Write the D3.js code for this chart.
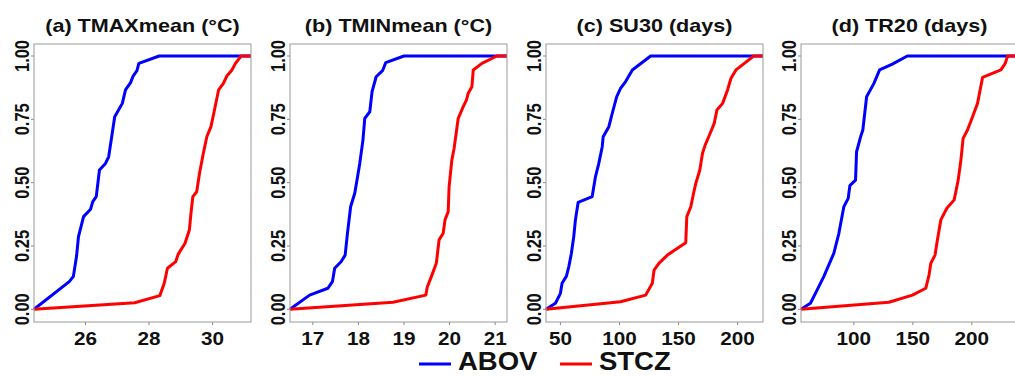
<!DOCTYPE html>
<html lang="en">
<head>
<meta charset="UTF-8">
<title>ECDF panels</title>
<style>
  body { margin: 0; background: #fff; }
  text { font-family: "Liberation Sans", Arial, sans-serif; font-weight: bold; fill: #111; }
</style>
</head>
<body>
<script src="https://d3js.org/d3.v7.min.js"></script>
<script>
// ---- data ([value, cumulative probability]) ----
var titles = ["(a) TMAXmean (°C)", "(b) TMINmean (°C)", "(c) SU30 (days)", "(d) TR20 (days)"];
var xDomains = [[24.38, 31.21], [16.5, 21.26], [37.8, 221.5], [55.2, 239.1]];
var xTicks = [[26, 28, 30], [17, 18, 19, 20, 21], [50, 100, 150, 200], [100, 150, 200]];
var yTicks = [0, 0.25, 0.5, 0.75, 1];
var seriesNames = ["ABOV", "STCZ"];

var tmaxABOV = [[24.38,0],[25.49,0.109],[25.62,0.13],[25.72,0.21],[25.78,0.287],[25.94,0.366],[26.16,0.395],
  [26.23,0.425],[26.34,0.445],[26.44,0.55],[26.63,0.576],[26.73,0.602],[26.81,0.668],[26.92,0.76],[27.16,0.813],
  [27.26,0.866],[27.42,0.895],[27.5,0.921],[27.62,0.942],[27.68,0.971],[28.32,1],[31.21,1]];
var tmaxSTCZ = [[24.38,0],[27.55,0.026],[28.34,0.054],[28.48,0.103],[28.58,0.162],[28.84,0.188],[28.92,0.218],
  [29.13,0.26],[29.27,0.313],[29.32,0.379],[29.38,0.445],[29.5,0.464],[29.59,0.537],[29.71,0.616],[29.82,0.681],
  [29.95,0.721],[30.06,0.787],[30.19,0.866],[30.34,0.892],[30.45,0.921],[30.61,0.945],[30.72,0.971],[30.9,1],[31.21,1]];

var tminABOV = [[16.5,0],[16.93,0.056],[17.33,0.083],[17.43,0.109],[17.48,0.162],[17.62,0.188],[17.71,0.214],
  [17.76,0.3],[17.83,0.405],[17.92,0.458],[17.97,0.51],[18.03,0.576],[18.1,0.668],[18.14,0.754],[18.25,0.78],
  [18.3,0.859],[18.39,0.918],[18.53,0.942],[18.6,0.974],[19.0,1],[21.26,1]];
var tminSTCZ = [[16.5,0],[18.76,0.028],[19.48,0.056],[19.51,0.087],[19.6,0.129],[19.71,0.182],[19.77,0.274],
  [19.86,0.3],[19.9,0.353],[19.97,0.385],[19.99,0.484],[20.05,0.589],[20.1,0.636],[20.19,0.754],[20.3,0.8],
  [20.37,0.826],[20.41,0.853],[20.49,0.879],[20.52,0.945],[20.71,0.971],[21.04,1],[21.26,1]];

var su30ABOV = [[37.8,0],[45.8,0.024],[50,0.063],[51.4,0.103],[55.1,0.131],[57.1,0.168],[59.3,0.221],[61.3,0.287],
  [62.7,0.353],[65,0.422],[76.9,0.445],[79.7,0.524],[82.5,0.576],[85.4,0.642],[86.2,0.681],[91,0.721],[93.9,0.774],
  [97.6,0.839],[100.9,0.872],[105.2,0.899],[110.9,0.945],[126.4,1],[221.5,1]];
var su30STCZ = [[37.8,0],[100.9,0.03],[122.2,0.056],[127.8,0.103],[129.3,0.155],[133.5,0.182],[140.6,0.214],
  [149.1,0.241],[156.1,0.263],[157,0.366],[160.4,0.405],[162.7,0.458],[164.6,0.497],[168,0.55],[170.3,0.616],
  [172.6,0.649],[176.8,0.695],[180.2,0.734],[182.5,0.787],[187.3,0.813],[191.5,0.866],[194.4,0.912],[198.6,0.945],
  [205.7,0.971],[213.6,1],[221.5,1]];

var tr20ABOV = [[55.2,0],[63.2,0.024],[68.8,0.076],[74.5,0.129],[83,0.221],[87.3,0.3],[91.5,0.405],[95.2,0.438],
  [96.6,0.488],[101.4,0.51],[102.3,0.622],[105.7,0.681],[107.6,0.708],[110.8,0.839],[117,0.892],[121.8,0.945],
  [132.6,0.968],[145.3,1],[239.1,1]];
var tr20STCZ = [[55.2,0],[129.7,0.028],[149.6,0.056],[160.9,0.083],[163.7,0.135],[165.2,0.182],[168.8,0.214],
  [170.8,0.274],[173.7,0.353],[178.8,0.399],[185,0.432],[188.4,0.51],[190.7,0.589],[192.6,0.675],[196.3,0.708],
  [200.6,0.76],[204.8,0.813],[209.1,0.916],[224.6,0.945],[228.3,0.971],[230.3,1],[239.1,1]];

var panelSeries = [[tmaxABOV, tmaxSTCZ], [tminABOV, tminSTCZ], [su30ABOV, su30STCZ], [tr20ABOV, tr20STCZ]];
var colors = ["#0000ff", "#ff0000"];

// ---- layout ----
var width = 1015, height = 376;
var panelLeft = [34, 290, 546, 801];
var panelW = 217;
var boxTop = 44, boxBottom = 322;

var svg = d3.select("body").append("svg")
    .attr("width", width)
    .attr("height", height);

var y = d3.scaleLinear().domain([0, 1]).range([309.3, 56]);

panelSeries.forEach(function(series, i) {
  var x0 = panelLeft[i];
  var x = d3.scaleLinear().domain(xDomains[i]).range([x0, x0 + panelW]);
  var g = svg.append("g");

  // title
  g.append("text")
    .attr("transform", "translate(" + (x0 + panelW / 2) + ",32) scale(1.2,1)")
    .attr("text-anchor", "middle")
    .style("font-size", "18px")
    .text(titles[i]);

  // y ticks + labels (rotated, R style)
  yTicks.forEach(function(t) {
    g.append("line").attr("x1", x0 - 3).attr("x2", x0).attr("y1", y(t)).attr("y2", y(t))
      .attr("stroke", "#888");
    g.append("text")
      .attr("transform", "translate(" + (x0 - 5) + "," + y(t) + ") scale(1.25,1) rotate(-90)")
      .attr("text-anchor", "middle")
      .style("font-size", "16.5px")
      .text(d3.format(".2f")(t));
  });

  // x ticks + labels
  xTicks[i].forEach(function(t) {
    g.append("line").attr("x1", x(t)).attr("x2", x(t)).attr("y1", boxBottom).attr("y2", boxBottom + 3)
      .attr("stroke", "#888");
    g.append("text")
      .attr("transform", "translate(" + x(t) + ",345) scale(1.15,1)")
      .attr("text-anchor", "middle")
      .style("font-size", "18px")
      .text(t);
  });

  // curves
  var line = d3.line().x(function(d) { return x(d[0]); }).y(function(d) { return y(d[1]); });
  series.forEach(function(s, k) {
    g.append("path")
      .attr("d", line(s))
      .attr("fill", "none")
      .attr("stroke", colors[k])
      .attr("stroke-width", 3)
      .attr("stroke-linejoin", "round");
  });

  // box
  g.append("rect")
    .attr("x", x0).attr("y", boxTop)
    .attr("width", panelW).attr("height", boxBottom - boxTop)
    .attr("fill", "none").attr("stroke", "#999").attr("stroke-width", 1);
});

// legend
var legX = [419, 560];
seriesNames.forEach(function(n, k) {
  svg.append("line")
    .attr("x1", legX[k]).attr("x2", legX[k] + 32).attr("y1", 364).attr("y2", 364)
    .attr("stroke", colors[k]).attr("stroke-width", 3);
  svg.append("text")
    .attr("transform", "translate(" + (legX[k] + 39) + ",370) scale(1.1,1)")
    .style("font-size", "25px")
    .text(n);
});
</script>
</body>
</html>
